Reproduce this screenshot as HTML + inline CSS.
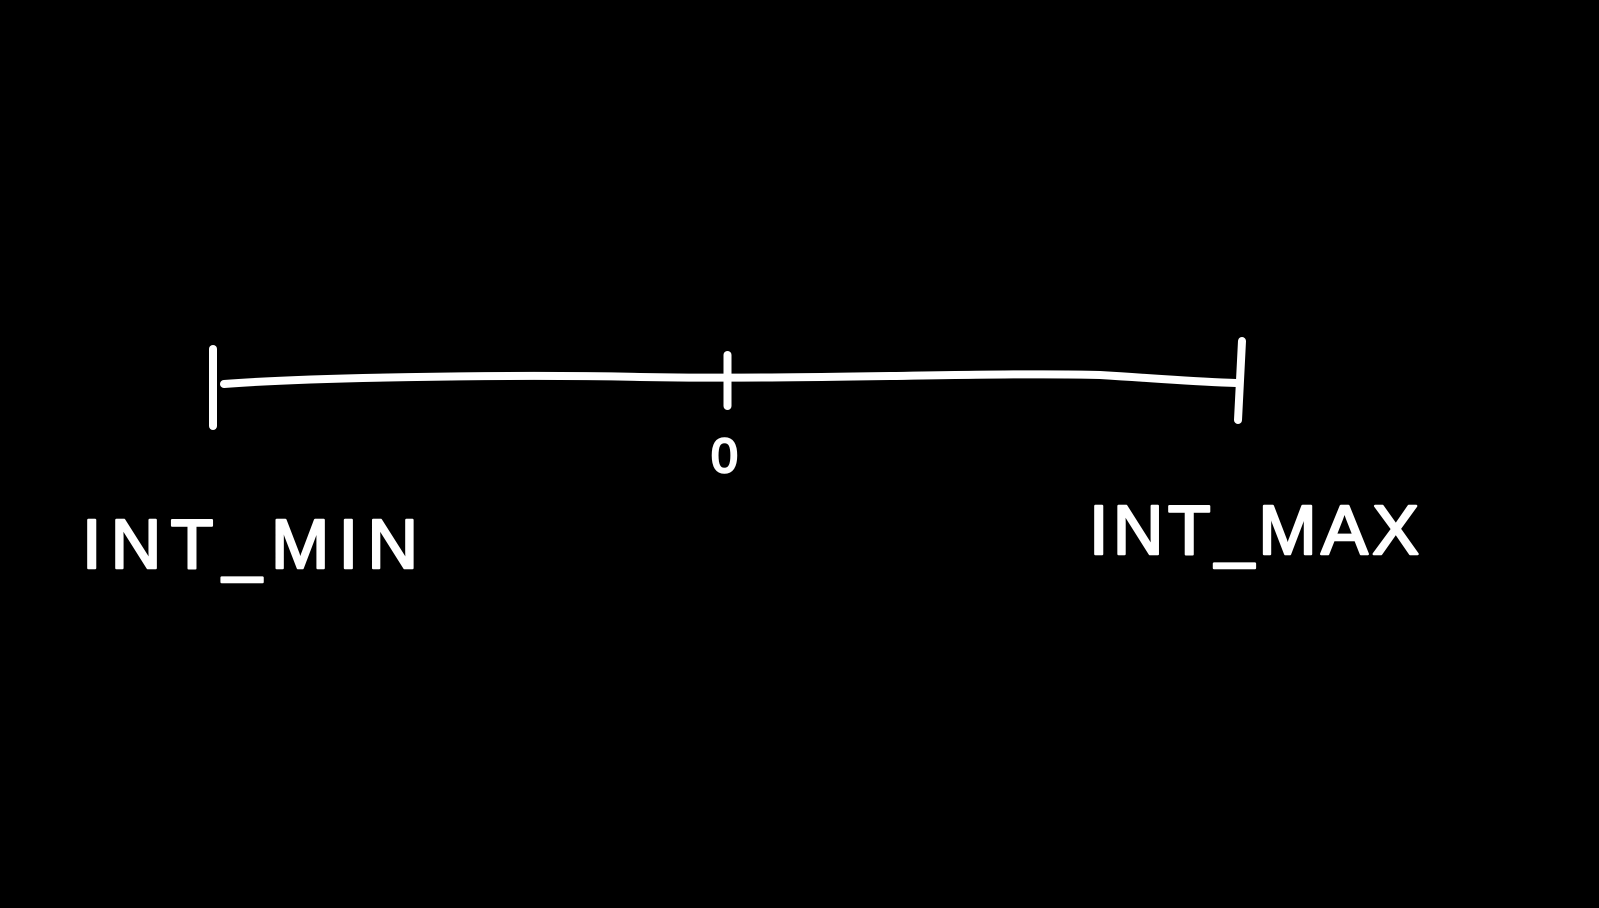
<!DOCTYPE html>
<html>
<head>
<meta charset="utf-8">
<style>
html,body{margin:0;padding:0;background:#000;}
svg{display:block;}
text{font-family:"Liberation Sans",sans-serif;fill:#fff;stroke:#fff;stroke-width:2.5;stroke-linejoin:round;}
</style>
</head>
<body>
<svg id="chart" width="1599" height="908" viewBox="0 0 1599 908">
  <rect x="0" y="0" width="1599" height="908" fill="#000"/>
  <path d="M224,384 C300,378 500,374 640,377 C800,380 1000,372 1100,375 C1180,380 1200,382 1236,383" stroke="#fff" stroke-width="8" fill="none" stroke-linecap="round"/>
  <g id="ticks"></g>
  <g id="labels"></g>
</svg>
<script>
const tickNames = ['INT_MIN', '0', 'INT_MAX'];
const tickPositions = [-1, 0, 1];
const tickLabels = ['INT_MIN', '0', 'INT_MAX'];

const xMin = -1, xMax = 1, pxMin = 213, pxMax = 1242;
function xScale(v){ return pxMin + (v - xMin) / (xMax - xMin) * (pxMax - pxMin); }

const ns = 'http://www.w3.org/2000/svg';
const tg = document.getElementById('ticks');
const lg = document.getElementById('labels');
tickPositions.forEach((v, i) => {
  const x = xScale(v);
  const isEnd = v !== 0;
  const line = document.createElementNS(ns, 'line');
  
  
  line.setAttribute('x1', x); line.setAttribute('x2', isEnd && v > 0 ? x - 4 : x);
  line.setAttribute('y1', isEnd ? (v < 0 ? 349 : 341) : 355);
  line.setAttribute('y2', isEnd ? (v < 0 ? 426 : 420) : 406);
  line.setAttribute('stroke', '#fff'); line.setAttribute('stroke-width', '8');
  line.setAttribute('stroke-linecap', 'round');
  tg.appendChild(line);

  const t = document.createElementNS(ns, 'text');
  
  
  t.textContent = tickLabels[i];
  if (v === 0) {
    t.setAttribute('x', x - 3); t.setAttribute('y', 472);
    t.setAttribute('font-size', '48'); t.setAttribute('text-anchor', 'middle');
  } else if (v < 0) {
    t.setAttribute('x', 82); t.setAttribute('y', 568);
    t.setAttribute('font-size', '70'); t.setAttribute('textLength', '336');
  } else {
    t.setAttribute('x', 1089); t.setAttribute('y', 554);
    t.setAttribute('font-size', '70'); t.setAttribute('textLength', '330');
  }
  lg.appendChild(t);
});
</script>
</body>
</html>
